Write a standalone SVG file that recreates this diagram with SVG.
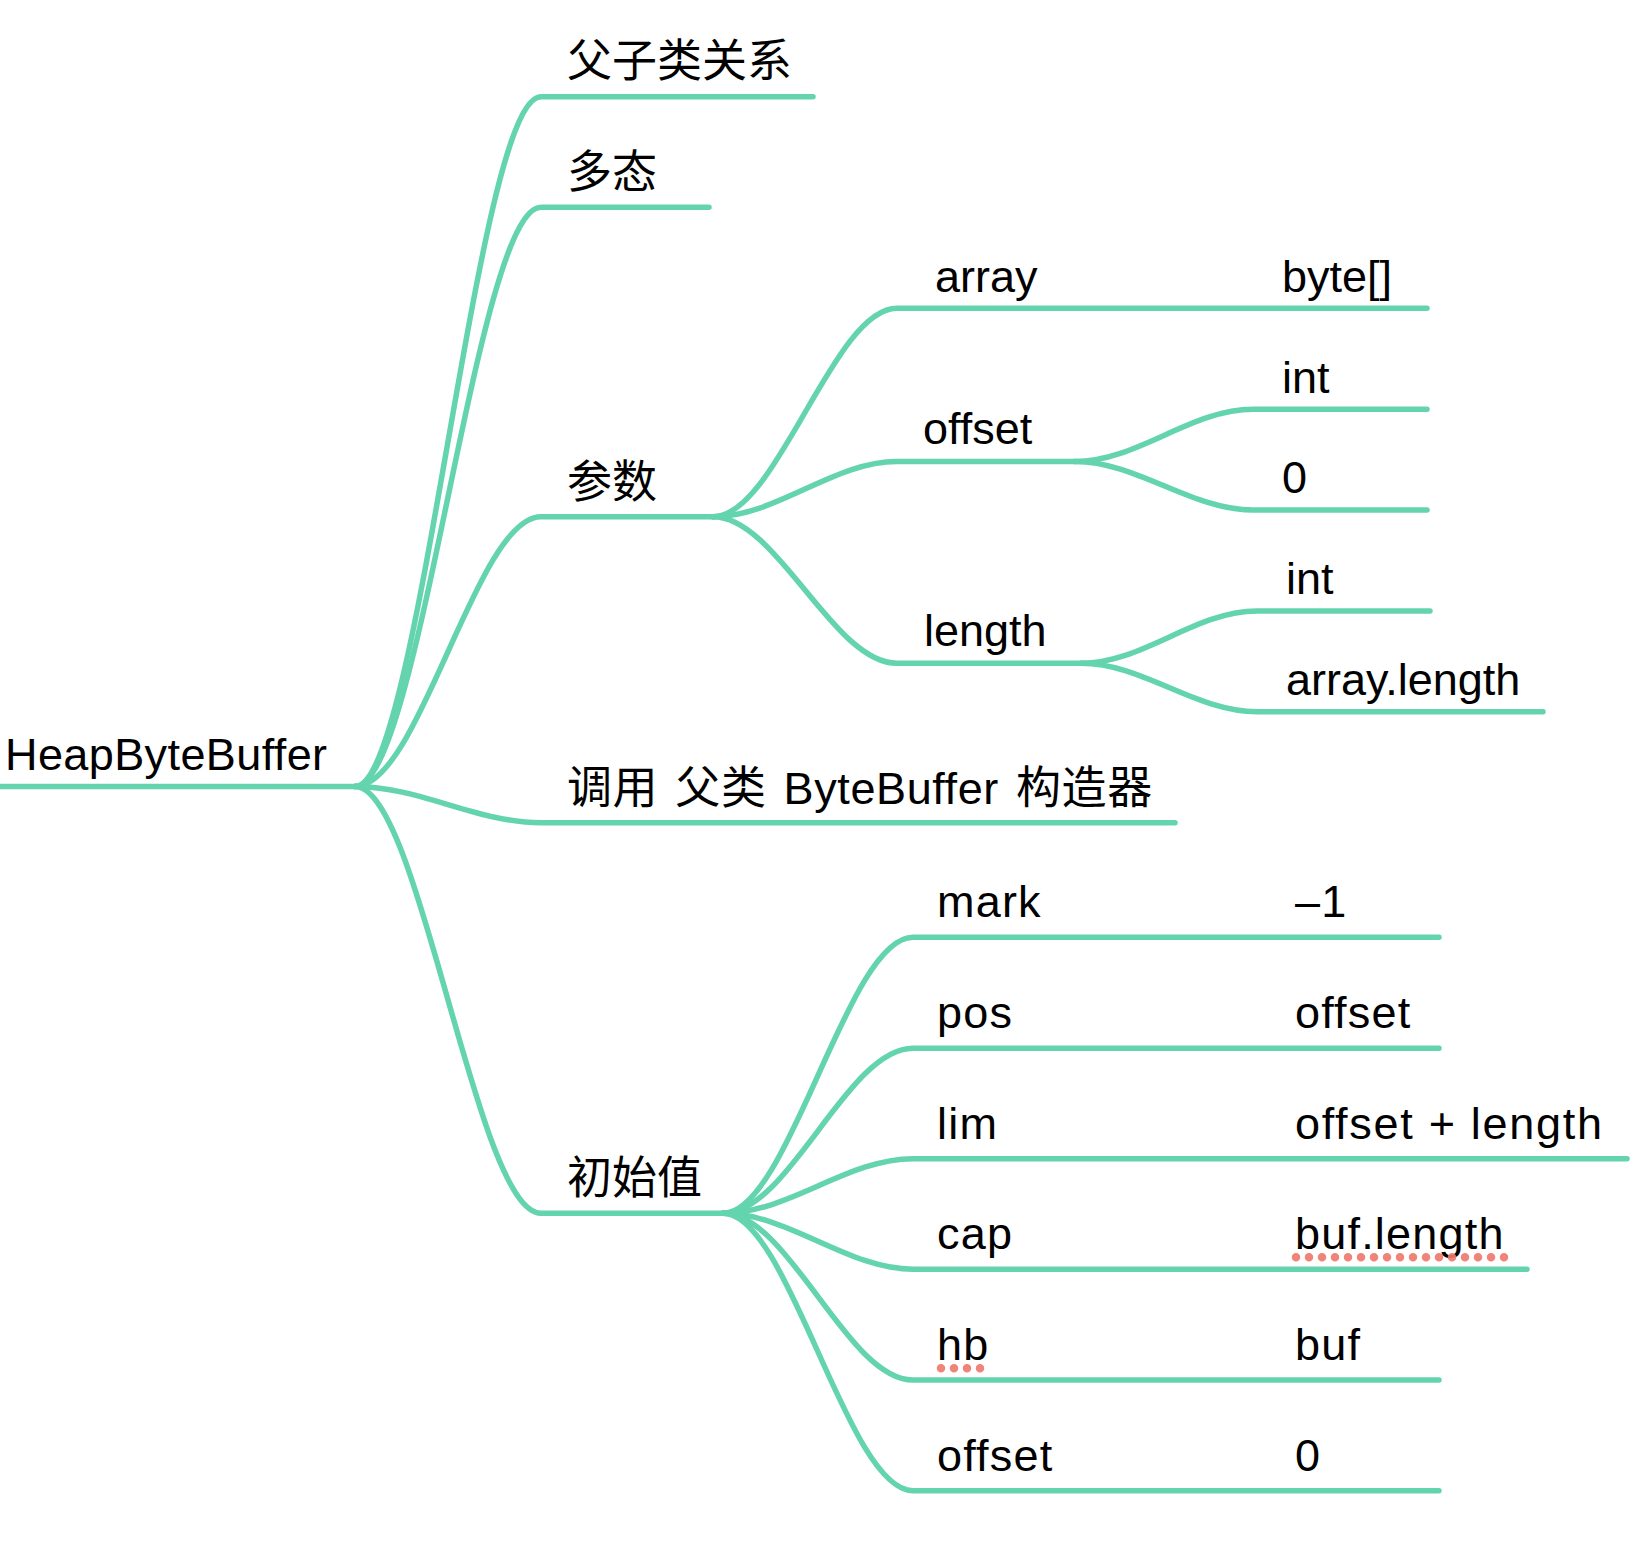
<svg xmlns="http://www.w3.org/2000/svg" width="1644" height="1542" viewBox="0 0 1644 1542">
<style>
  .c { fill: none; stroke: #64D4AE; stroke-width: 5.5; stroke-linecap: round; stroke-linejoin: round; }
  text { font-family: "Liberation Sans", "Noto Sans CJK SC", sans-serif; font-size: 45px; fill: #000; }
  .w { letter-spacing: 1.2px; }
  .sp { fill: none; stroke: #EF7A6E; stroke-width: 8.5; stroke-linecap: round; stroke-dasharray: 0 13; opacity: 0.92; }
</style>
<rect width="1644" height="1542" fill="#fff"/>
<g id="connectors">
  <path class="c" d="M0,786.5 H355"/>
  <path class="c" d="M355,786.5 C420,786.5 476,96.7 541,96.7 H813"/>
  <path class="c" d="M355,786.5 C420,786.5 476,207.3 541,207.3 H709"/>
  <path class="c" d="M355,786.5 C420,786.5 476,516.7 541,516.7 H713"/>
  <path class="c" d="M355,786.5 C420,786.5 476,822.7 541,822.7 H1175"/>
  <path class="c" d="M355,786.5 C420,786.5 476,1213.3 541,1213.3 H723"/>
  <path class="c" d="M713,516.7 C777,516.7 833,308.3 897,308.3 H1427"/>
  <path class="c" d="M713,516.7 C777,516.7 833,461.5 897,461.5 H1075"/>
  <path class="c" d="M713,516.7 C777,516.7 833,663.3 897,663.3 H1081"/>
  <path class="c" d="M1075,461.5 C1137,461.5 1191,409.3 1253,409.3 H1427"/>
  <path class="c" d="M1075,461.5 C1137,461.5 1191,510 1253,510 H1427"/>
  <path class="c" d="M1081,663.3 C1143,663.3 1195,611 1257,611 H1430"/>
  <path class="c" d="M1081,663.3 C1143,663.3 1195,711.7 1257,711.7 H1543"/>
  <path class="c" d="M723,1213.3 C789,1213.3 847,937.3 913,937.3 H1439"/>
  <path class="c" d="M723,1213.3 C789,1213.3 847,1048.3 913,1048.3 H1439"/>
  <path class="c" d="M723,1213.3 C789,1213.3 847,1158.7 913,1158.7 H1627"/>
  <path class="c" d="M723,1213.3 C789,1213.3 847,1269.2 913,1269.2 H1527"/>
  <path class="c" d="M723,1213.3 C789,1213.3 847,1380 913,1380 H1439"/>
  <path class="c" d="M723,1213.3 C789,1213.3 847,1490.7 913,1490.7 H1439"/>
</g>
<g id="node-root"><text x="5" y="770" style="letter-spacing:0.4px">HeapByteBuffer</text></g>
<g id="node-fuzilei"><text x="567" y="77">父子类关系</text></g>
<g id="node-duotai"><text x="567" y="188">多态</text></g>
<g id="node-canshu"><text x="567" y="498">参数</text></g>
<g id="node-diaoyong"><text x="567" y="803.5" style="word-spacing:4px;letter-spacing:0.6px">调用 父类 ByteBuffer 构造器</text></g>
<g id="node-chushizhi"><text x="567" y="1193.5">初始值</text></g>
<g id="node-array"><text x="935" y="292">array</text></g>
<g id="node-array-type"><text x="1282" y="292">byte[]</text></g>
<g id="node-offset"><text x="923" y="444">offset</text></g>
<g id="node-offset-type"><text x="1282" y="392.7">int</text></g>
<g id="node-offset-val"><text x="1282" y="492.7">0</text></g>
<g id="node-length"><text x="924" y="646">length</text></g>
<g id="node-length-type"><text x="1286" y="594">int</text></g>
<g id="node-length-val"><text x="1286" y="695">array.length</text></g>
<g id="node-mark"><text class="w" x="937" y="917.3">mark</text></g>
<g id="node-mark-val"><text class="w" x="1295" y="917.3">–1</text></g>
<g id="node-pos"><text class="w" x="937" y="1028.3">pos</text></g>
<g id="node-pos-val"><text class="w" x="1295" y="1028.3">offset</text></g>
<g id="node-lim"><text class="w" x="937" y="1138.5">lim</text></g>
<g id="node-lim-val"><text class="w" x="1295" y="1138.5" style="letter-spacing:1.7px">offset + length</text></g>
<g id="node-cap"><text class="w" x="937" y="1249.3">cap</text></g>
<g id="node-cap-val"><text class="w" x="1295" y="1249.3">buf.length</text>
  <path class="sp" d="M1296,1257.3 H1510"/></g>
<g id="node-hb"><text class="w" x="937" y="1360">hb</text>
  <path class="sp" d="M941,1368.3 H982"/></g>
<g id="node-hb-val"><text class="w" x="1295" y="1360">buf</text></g>
<g id="node-offset2"><text class="w" x="937" y="1470.5">offset</text></g>
<g id="node-offset2-val"><text class="w" x="1295" y="1470.5">0</text></g>
</svg>
